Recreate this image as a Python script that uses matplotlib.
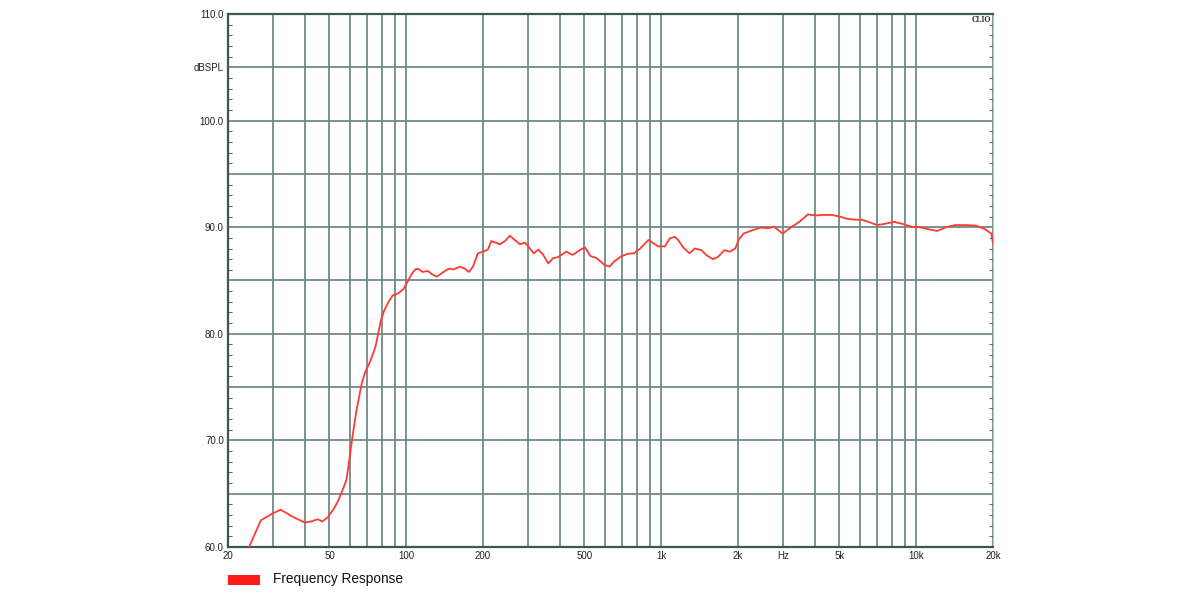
import matplotlib
matplotlib.use("Agg")
import matplotlib.pyplot as plt
from matplotlib.patches import Rectangle

plt.rcParams['font.family'] = ['Liberation Sans', 'DejaVu Sans']

# ---- data ----
freq_hz = [24.2, 26.9, 29.7, 32.2, 36.1, 40, 42.5, 44.9, 46.9, 49.3, 52, 54, 56.6, 58.3, 59.9,
           61.5, 63.9, 67, 69, 72.2, 75.8, 77.9, 79.6, 82, 85.3, 88.5, 93.1, 97.5, 101.3, 105,
           108.5, 111.4, 116, 121.4, 126, 131.8, 140, 146.5, 153.5, 162.6, 169.9, 176, 182.7,
           191, 200, 209, 215.5, 233, 244, 254.8, 266.6, 279, 292, 301, 315.7, 330, 344.6,
           360.5, 376.8, 394.3, 424, 449.4, 483, 503, 527, 558, 600, 627, 655, 695, 737, 781,
           827, 890, 931, 974, 1033, 1080, 1131, 1165, 1220, 1292, 1352, 1436, 1500, 1592,
           1666, 1770, 1857, 1951, 2010, 2100, 2270, 2460, 2620, 2765, 2994, 3230, 3480, 3760,
           4060, 4310, 4650, 5020, 5330, 5760, 6120, 6500, 7020, 7460, 8190, 8860, 9570,
           10300, 11200, 12100, 13100, 14200, 15600, 17100, 18500, 19700, 20000]
spl_db = [60.0, 62.5, 63.1, 63.5, 62.8, 62.3, 62.4, 62.6, 62.4, 62.8, 63.6, 64.3, 65.5, 66.3, 68.3,
          70.3, 72.9, 75.4, 76.4, 77.4, 78.8, 80.2, 81.3, 82.2, 83.0, 83.6, 83.8, 84.2, 84.9, 85.6,
          86.05, 86.1, 85.8, 85.9, 85.6, 85.35, 85.8, 86.1, 86.05, 86.3, 86.1, 85.8, 86.3,
          87.55, 87.7, 87.9, 88.7, 88.4, 88.7, 89.2, 88.8, 88.4, 88.55, 88.2, 87.55, 87.9, 87.4,
          86.6, 87.1, 87.2, 87.7, 87.4, 87.9, 88.1, 87.3, 87.1, 86.45, 86.3, 86.8, 87.25, 87.5, 87.55,
          88.0, 88.8, 88.5, 88.2, 88.2, 88.95, 89.1, 88.8, 88.1, 87.55, 88.0, 87.85, 87.4, 87.0,
          87.2, 87.85, 87.7, 88.0, 88.8, 89.4, 89.7, 89.97, 89.9, 90.05, 89.4, 90.0, 90.5, 91.2,
          91.1, 91.15, 91.15, 91.0, 90.8, 90.7, 90.7, 90.5, 90.2, 90.3, 90.5, 90.3, 90.05,
          90.0, 89.8, 89.65, 90.0, 90.2, 90.2, 90.15, 89.85, 89.4, 88.5]

x_grid = [20, 30, 40, 50, 60, 70, 80, 90, 100, 200, 300, 400, 500, 600, 700, 800, 900,
          1000, 2000, 3000, 4000, 5000, 6000, 7000, 8000, 9000, 10000, 20000]
x_labels = {20: "20", 50: "50", 100: "100", 200: "200", 500: "500", 1000: "1k",
            2000: "2k", 3000: "Hz", 5000: "5k", 10000: "10k", 20000: "20k"}
y_grid = [60, 65, 70, 75, 80, 85, 90, 95, 100, 105, 110]
y_labels = {60: "60.0", 70: "70.0", 80: "80.0", 90: "90.0", 100: "100.0",
            105: "dBSPL", 110: "110.0"}
legend_label = "Frequency Response"

grid_col = '#72898a'
spine_col = '#3f5554'
curve_col = '#ff3a33'

fig = plt.figure(figsize=(12, 6), dpi=100)
ax = fig.add_axes([228 / 1200, 1 - 547 / 600, (993 - 228) / 1200, (547 - 14) / 600])
ax.set_xscale('log')
ax.set_xlim(20, 20000)
ax.set_ylim(60, 110)

ax.set_xticks(x_grid)
ax.set_xticklabels([x_labels.get(v, "") for v in x_grid])
ax.xaxis.set_minor_locator(matplotlib.ticker.NullLocator())
ax.set_yticks(y_grid)
ax.set_yticklabels([y_labels.get(v, "") for v in y_grid])
ax.set_yticks(range(60, 111), minor=True)

ax.tick_params(axis='x', length=0, pad=3, labelsize=7, labelcolor='#222222')
ax.tick_params(axis='y', which='major', length=0, pad=3, labelsize=7, labelcolor='#222222')
ax.tick_params(axis='y', which='minor', direction='in', length=3, width=0.8,
               color='#5a6e6d', left=True, right=True)

ax.grid(True, which='major', color=grid_col, linewidth=1.3)
ax.set_axisbelow(True)

for s in ['left', 'bottom', 'top']:
    ax.spines[s].set_color(spine_col)
    ax.spines[s].set_linewidth(1.6)
ax.spines['right'].set_color('#b8c6c5')
ax.spines['right'].set_linewidth(0.8)

ax.plot(freq_hz, spl_db, color=curve_col, linewidth=1.3, zorder=3, clip_on=True)

ax.text(0.998, 0.997, "CLIO", transform=ax.transAxes, ha='right', va='top',
        fontsize=5.5, fontweight='bold', family=['Liberation Serif', 'DejaVu Serif'],
        color='#1e2a2a')

fig.patches.append(Rectangle((228 / 1200, 1 - 585 / 600), 32 / 1200, 10 / 600,
                             transform=fig.transFigure, facecolor='#ff1a1a',
                             edgecolor='none'))
fig.text(273 / 1200, 1 - 579 / 600, legend_label, ha='left', va='center',
         fontsize=9.8, color='#111111')

fig.savefig("out.png", dpi=100)
